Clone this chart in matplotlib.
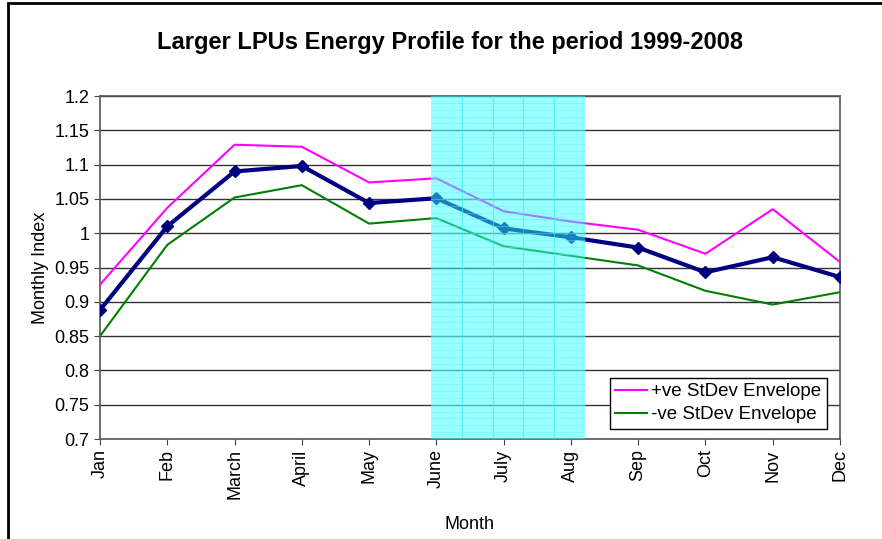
import matplotlib.pyplot as plt
from matplotlib.patches import Rectangle

plt.rcParams['font.family'] = ['Liberation Sans', 'DejaVu Sans']

months = ['Jan', 'Feb', 'March', 'April', 'May', 'June', 'July', 'Aug',
          'Sep', 'Oct', 'Nov', 'Dec']
index = [0.888, 1.010, 1.090, 1.098, 1.044, 1.051, 1.007, 0.994, 0.979,
         0.943, 0.965, 0.936]
plus_env = [0.925, 1.037, 1.129, 1.126, 1.074, 1.080, 1.032, 1.017, 1.005,
            0.970, 1.035, 0.958]
minus_env = [0.850, 0.983, 1.052, 1.070, 1.014, 1.022, 0.981, 0.967, 0.953,
             0.916, 0.896, 0.914]

fig = plt.figure(figsize=(8.82, 5.39), dpi=100)
ax = fig.add_axes([100 / 882, 1 - 439 / 539, 740 / 882, 343 / 539])

x = list(range(len(months)))
ax.plot(x, plus_env, color='#FF00FF', lw=1.5, label='+ve StDev Envelope', zorder=3)
ax.plot(x, minus_env, color='#008000', lw=1.5, label='-ve StDev Envelope', zorder=3)
ax.plot(x, index, color='#000080', lw=3, marker='D', markersize=6, zorder=4,
        label='_nolegend_')

# shaded summer band with faint inner grid
b0, b1 = 4.92, 7.21
ax.axvspan(b0, b1, color='#33FFFF', alpha=0.5, lw=0, zorder=5)
for i in range(1, 5):
    xv = b0 + i * (b1 - b0) / 5
    ax.axvline(xv, color='#33EEEE', lw=0.8, alpha=0.6, zorder=5)
yy = 0.7
while yy < 1.2:
    ax.plot([b0, b1], [yy, yy], color='#66EEEE', lw=0.5, alpha=0.6, zorder=5)
    yy += 0.01

ax.set_xlim(0, 11)
ax.set_ylim(0.7, 1.2)
ax.set_yticks([0.7 + 0.05 * i for i in range(11)])
ax.set_yticklabels(['0.7', '0.75', '0.8', '0.85', '0.9', '0.95', '1', '1.05',
                    '1.1', '1.15', '1.2'])
ax.set_xticks(x)
ax.set_xticklabels(months, rotation=90)
ax.tick_params(labelsize=13, direction='out', length=4, color='#444444')
ax.yaxis.grid(True, color='#333333', lw=1)
ax.set_axisbelow(True)
for s in ax.spines.values():
    s.set_color('#555555')
    s.set_linewidth(1.2)

ax.set_xlabel('Month', fontsize=13, labelpad=12)
ax.set_ylabel('Monthly Index', fontsize=13, labelpad=4)
fig.text(0.51, 1 - 42 / 539, 'Larger LPUs Energy Profile for the period 1999-2008',
         ha='center', va='center', fontsize=17, fontweight='bold')

leg = ax.legend(loc='lower right', bbox_to_anchor=(0.982, 0.03), fontsize=13.5,
                frameon=True, fancybox=False, edgecolor='black', framealpha=1,
                handlelength=1.7, handletextpad=0.2, borderpad=0.3,
                labelspacing=0.3, borderaxespad=0)
leg.get_frame().set_linewidth(1)
leg.set_zorder(10)

fig.patches.append(Rectangle((8 / 882, -0.1), 1.2, 1 - 3 / 539 + 0.1,
                             transform=fig.transFigure, fill=False,
                             edgecolor='black', lw=2))

fig.savefig('out.png', dpi=100)
